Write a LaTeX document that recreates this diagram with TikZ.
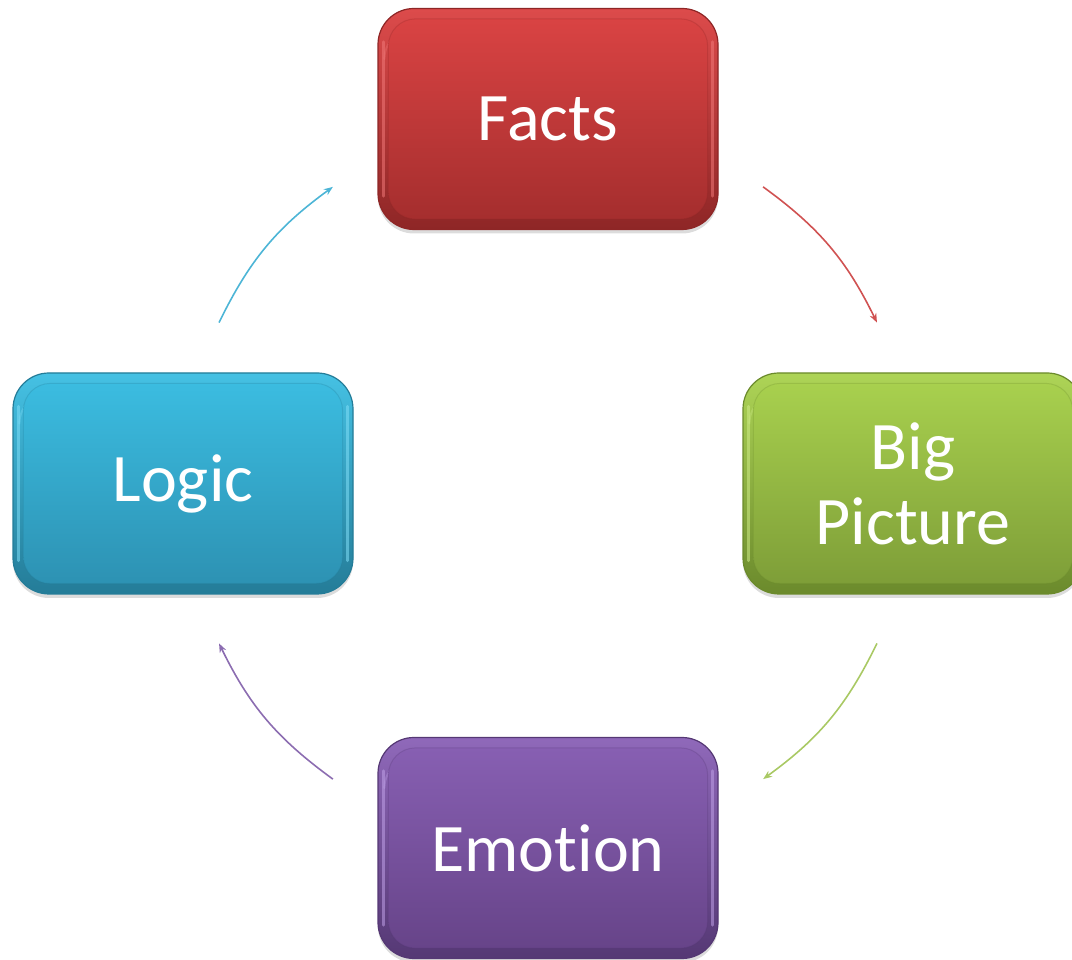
\documentclass[tikz,border=0pt]{standalone}
\usepackage{fontspec}
\setmainfont{Carlito}[Ligatures={NoCommon,NoContextual}]
\usetikzlibrary{arrows.meta,shadows,calc}

\definecolor{factsTop}{HTML}{D94343}
\definecolor{factsBot}{HTML}{A52E2E}
\definecolor{factsEdge}{HTML}{8E2626}
\definecolor{factsLite}{HTML}{F07878}
\definecolor{bigTop}{HTML}{A8D04E}
\definecolor{bigBot}{HTML}{7E9E38}
\definecolor{bigEdge}{HTML}{6B8A2C}
\definecolor{bigLite}{HTML}{CDEB86}
\definecolor{logicTop}{HTML}{3BBCE0}
\definecolor{logicBot}{HTML}{2D92B3}
\definecolor{logicEdge}{HTML}{247C98}
\definecolor{logicLite}{HTML}{7FDDF6}
\definecolor{emoTop}{HTML}{875FB2}
\definecolor{emoBot}{HTML}{674489}
\definecolor{emoEdge}{HTML}{553874}
\definecolor{emoLite}{HTML}{BFA0E6}
\definecolor{arrRed}{HTML}{D05252}
\definecolor{arrGreen}{HTML}{A9C964}
\definecolor{arrBlue}{HTML}{4DB5D6}
\definecolor{arrPurple}{HTML}{8C6DB1}

\tikzset{
  cardshell/.style={rounded corners=36pt, minimum width=340pt, minimum height=221pt,
    line width=1.2pt, inner sep=0pt,
    drop shadow={opacity=0.28, shadow xshift=0pt, shadow yshift=-4pt}},
  cardface/.style={rounded corners=27pt},
  cardtext/.style={align=center, text=white, inner sep=0pt,
    font=\fontsize{68}{75}\selectfont},
  sheen/.style={line width=3pt, line cap=round, draw opacity=0.55},
  flow/.style={line width=1.6pt, -{Stealth[length=9pt,width=7pt]}}
}

% one bevelled card: name, centre, text, top colour, bottom colour, edge colour, light colour
\newcommand{\card}[7]{%
  \node[cardshell, draw=#6, top color=#4!85!#7, bottom color=#6] (#1) at #2 {};
  % light bands down both sides of the bevel
  \draw[sheen, #7] ($(#1.north west)+(6pt,-34pt)$) -- ($(#1.south west)+(6pt,34pt)$);
  \draw[sheen, #7] ($(#1.north east)+(-6pt,-34pt)$) -- ($(#1.south east)+(-6pt,34pt)$);
  \draw[sheen, #7, draw opacity=0.35, line width=2pt]
    ($(#1.west)+(7pt,60pt)$) arc[start angle=180, end angle=90, radius=30pt];
  % raised face
  \shade[cardface, top color=#4, bottom color=#5]
    ($(#1.south west)+(11pt,11pt)$) rectangle ($(#1.north east)-(11pt,11pt)$);
  \draw[cardface, #6, draw opacity=0.25, line width=1pt]
    ($(#1.south west)+(11pt,11pt)$) rectangle ($(#1.north east)-(11pt,11pt)$);
  \node[cardtext] (#1-label) at (#1.center) {#3};
}

\begin{document}
\begin{tikzpicture}[x=1pt,y=1pt]
\useasboundingbox (0,0) rectangle (1072,960);
\begin{scope}
\clip (0,0) rectangle (1072,960);

\card{facts}{(548,841)}{Facts}{factsTop}{factsBot}{factsEdge}{factsLite}
\card{big}{(913,476.5)}{Big\\Picture}{bigTop}{bigBot}{bigEdge}{bigLite}
\card{emotion}{(548,112)}{Emot\kern0pt ion}{emoTop}{emoBot}{emoEdge}{emoLite}
\card{logic}{(183,476.5)}{Logic}{logicTop}{logicBot}{logicEdge}{logicLite}

% arrow ends lie on a circle round the middle of the cycle
\coordinate (hub) at (548,477);
\coordinate (fb1) at ($(hub)+(54:366)$);
\coordinate (fb2) at ($(hub)+(26:366)$);
\coordinate (be1) at ($(hub)+(-26:366)$);
\coordinate (be2) at ($(hub)+(-54:366)$);
\coordinate (el1) at ($(hub)+(-126:366)$);
\coordinate (el2) at ($(hub)+(-154:366)$);
\coordinate (lf1) at ($(hub)+(154:366)$);
\coordinate (lf2) at ($(hub)+(126:366)$);

\draw[flow, arrRed] (fb1) to[bend left=14] (fb2);
\draw[flow, arrGreen] (be1) to[bend left=14] (be2);
\draw[flow, arrPurple] (el1) to[bend left=14] (el2);
\draw[flow, arrBlue] (lf1) to[bend left=14] (lf2);
\end{scope}
\end{tikzpicture}
\end{document}
